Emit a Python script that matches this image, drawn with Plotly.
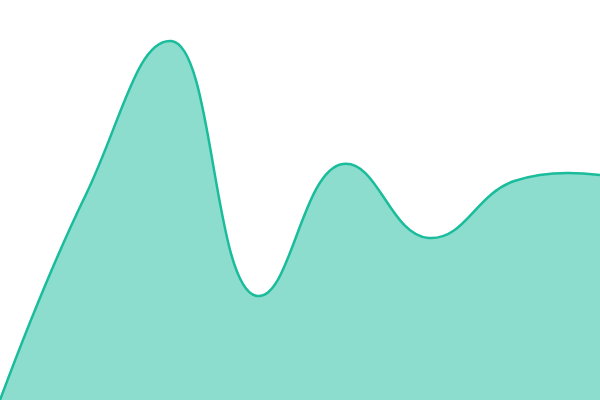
import plotly.graph_objects as go

x_vals = [0, 1, 2, 3, 4, 5, 6, 7]
y_vals = [0, 20.5, 35.9, 10.4, 23.6, 16.2, 21.9, 22.5]

fig = go.Figure()
fig.add_trace(go.Scatter(
    x=x_vals, y=y_vals,
    mode="lines",
    line=dict(color="#1abc9c", width=2.5, shape="spline", smoothing=1.3),
    fill="tozeroy",
    fillcolor="rgba(26,188,156,0.5)",
    hoverinfo="skip",
    showlegend=False,
))
fig.update_layout(
    width=600, height=400,
    margin=dict(l=0, r=0, t=0, b=0),
    paper_bgcolor="white", plot_bgcolor="white",
    xaxis=dict(visible=False, range=[0, 7], fixedrange=True),
    yaxis=dict(visible=False, range=[0, 40], fixedrange=True),
)
fig.write_html(
    "out.html",
    config={"displayModeBar": False},
    post_script="document.body.style.margin='0';document.body.style.overflow='hidden';",
)
